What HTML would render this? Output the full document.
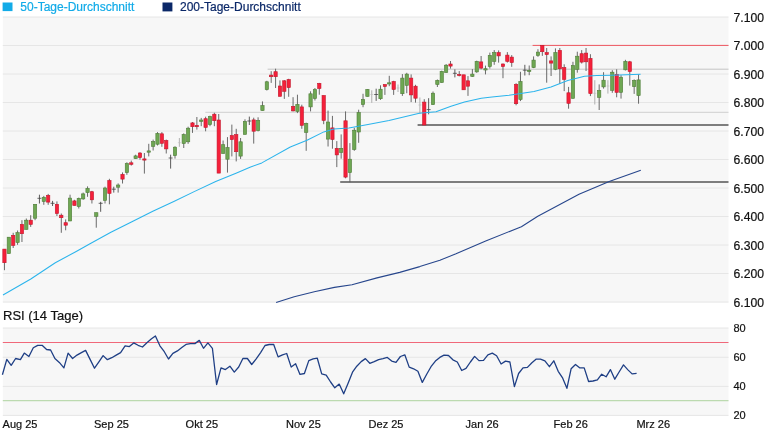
<!DOCTYPE html>
<html><head><meta charset="utf-8"><title>Chart</title>
<style>html,body{margin:0;padding:0;background:#fff;}svg{display:block;will-change:transform}</style></head>
<body><svg width="765" height="430" viewBox="0 0 765 430">
<rect width="765" height="430" fill="#fff"/>
<rect x="2.8" y="17" width="725.7" height="285.5" fill="#f7f7f7"/>
<rect x="2.8" y="328" width="725.7" height="87.5" fill="#f7f7f7"/>
<line x1="2.8" x2="728.5" y1="17.0" y2="17.0" stroke="#e6e6e6" stroke-width="1"/>
<line x1="2.8" x2="728.5" y1="45.5" y2="45.5" stroke="#e6e6e6" stroke-width="1"/>
<line x1="2.8" x2="728.5" y1="74.0" y2="74.0" stroke="#e6e6e6" stroke-width="1"/>
<line x1="2.8" x2="728.5" y1="102.5" y2="102.5" stroke="#e6e6e6" stroke-width="1"/>
<line x1="2.8" x2="728.5" y1="131.0" y2="131.0" stroke="#e6e6e6" stroke-width="1"/>
<line x1="2.8" x2="728.5" y1="159.5" y2="159.5" stroke="#e6e6e6" stroke-width="1"/>
<line x1="2.8" x2="728.5" y1="188.0" y2="188.0" stroke="#e6e6e6" stroke-width="1"/>
<line x1="2.8" x2="728.5" y1="216.5" y2="216.5" stroke="#e6e6e6" stroke-width="1"/>
<line x1="2.8" x2="728.5" y1="245.0" y2="245.0" stroke="#e6e6e6" stroke-width="1"/>
<line x1="2.8" x2="728.5" y1="273.5" y2="273.5" stroke="#e6e6e6" stroke-width="1"/>
<line x1="2.8" x2="728.5" y1="302.0" y2="302.0" stroke="#e6e6e6" stroke-width="1"/>
<line x1="2.8" x2="728.5" y1="328" y2="328" stroke="#e6e6e6" stroke-width="1"/>
<line x1="2.8" x2="728.5" y1="357.3" y2="357.3" stroke="#e6e6e6" stroke-width="1"/>
<line x1="2.8" x2="728.5" y1="386.4" y2="386.4" stroke="#e6e6e6" stroke-width="1"/>
<line x1="2.8" x2="728.5" y1="415.4" y2="415.4" stroke="#e6e6e6" stroke-width="1"/>
<line x1="205.3" x2="728.5" y1="112.3" y2="112.3" stroke="#cfcfcf" stroke-width="1"/>
<line x1="267.6" x2="728.5" y1="69.2" y2="69.2" stroke="#c4c4c4" stroke-width="1"/>
<line x1="532.6" x2="728.5" y1="45.4" y2="45.4" stroke="#ee5560" stroke-width="1"/>
<line x1="417.6" x2="728.5" y1="125" y2="125" stroke="#555" stroke-width="1.4"/>
<line x1="340.2" x2="728.5" y1="182" y2="182" stroke="#555" stroke-width="1.4"/>
<line x1="2.8" x2="728.5" y1="342.4" y2="342.4" stroke="#f0687a" stroke-width="1.05"/>
<line x1="2.8" x2="728.5" y1="400.7" y2="400.7" stroke="#bcdab0" stroke-width="1.2"/>
<line x1="4.45" x2="4.45" y1="249.1" y2="270.2" stroke="#5a5a5a" stroke-width="0.9"/>
<rect x="2.80" y="249.1" width="3.3" height="13.6" fill="#f5203a" stroke="#c4162c" stroke-width="0.6"/>
<line x1="8.82" x2="8.82" y1="237.2" y2="253.6" stroke="#5a5a5a" stroke-width="0.9"/>
<rect x="7.17" y="237.2" width="3.3" height="16.4" fill="#6ea753" stroke="#4f7d38" stroke-width="0.6"/>
<line x1="13.20" x2="13.20" y1="232.8" y2="248.0" stroke="#5a5a5a" stroke-width="0.9"/>
<rect x="11.55" y="235.3" width="3.3" height="10.1" fill="#f5203a" stroke="#c4162c" stroke-width="0.6"/>
<line x1="17.57" x2="17.57" y1="230.5" y2="244.8" stroke="#5a5a5a" stroke-width="0.9"/>
<rect x="15.92" y="232.6" width="3.3" height="9.9" fill="#6ea753" stroke="#4f7d38" stroke-width="0.6"/>
<line x1="21.94" x2="21.94" y1="220.2" y2="242.0" stroke="#5a5a5a" stroke-width="0.9"/>
<rect x="20.29" y="224.4" width="3.3" height="9.3" fill="#f5203a" stroke="#c4162c" stroke-width="0.6"/>
<line x1="26.32" x2="26.32" y1="218.5" y2="229.4" stroke="#5a5a5a" stroke-width="0.9"/>
<rect x="24.67" y="220.2" width="3.3" height="9.2" fill="#6ea753" stroke="#4f7d38" stroke-width="0.6"/>
<line x1="30.69" x2="30.69" y1="215.2" y2="226.9" stroke="#5a5a5a" stroke-width="0.9"/>
<rect x="29.04" y="220.2" width="3.3" height="4.2" fill="#f5203a" stroke="#c4162c" stroke-width="0.6"/>
<line x1="35.06" x2="35.06" y1="204.3" y2="220.2" stroke="#5a5a5a" stroke-width="0.9"/>
<rect x="33.41" y="204.3" width="3.3" height="13.9" fill="#6ea753" stroke="#4f7d38" stroke-width="0.6"/>
<line x1="39.43" x2="39.43" y1="194.7" y2="203.5" stroke="#4a4a4a" stroke-width="0.9"/>
<line x1="37.43" x2="41.43" y1="198.3" y2="198.3" stroke="#444" stroke-width="0.8"/>
<line x1="43.81" x2="43.81" y1="195.9" y2="204.8" stroke="#5a5a5a" stroke-width="0.9"/>
<rect x="42.16" y="197.3" width="3.3" height="4.1" fill="#6ea753" stroke="#4f7d38" stroke-width="0.6"/>
<line x1="48.18" x2="48.18" y1="193.9" y2="204.8" stroke="#5a5a5a" stroke-width="0.9"/>
<rect x="46.53" y="195.4" width="3.3" height="6.7" fill="#f5203a" stroke="#c4162c" stroke-width="0.6"/>
<line x1="52.55" x2="52.55" y1="200.9" y2="206.0" stroke="#4a4a4a" stroke-width="0.9"/>
<line x1="50.55" x2="54.55" y1="203.3" y2="203.3" stroke="#444" stroke-width="0.8"/>
<line x1="56.93" x2="56.93" y1="201.4" y2="216.0" stroke="#5a5a5a" stroke-width="0.9"/>
<rect x="55.28" y="204.3" width="3.3" height="9.2" fill="#f5203a" stroke="#c4162c" stroke-width="0.6"/>
<line x1="61.30" x2="61.30" y1="213.5" y2="232.8" stroke="#5a5a5a" stroke-width="0.9"/>
<rect x="59.65" y="215.2" width="3.3" height="2.5" fill="#f5203a" stroke="#c4162c" stroke-width="0.6"/>
<line x1="65.67" x2="65.67" y1="219.4" y2="230.3" stroke="#5a5a5a" stroke-width="0.9"/>
<rect x="64.02" y="222.7" width="3.3" height="2.5" fill="#f5203a" stroke="#c4162c" stroke-width="0.6"/>
<line x1="70.05" x2="70.05" y1="194.7" y2="221.0" stroke="#5a5a5a" stroke-width="0.9"/>
<rect x="68.39" y="198.1" width="3.3" height="22.9" fill="#6ea753" stroke="#4f7d38" stroke-width="0.6"/>
<line x1="74.42" x2="74.42" y1="199.8" y2="205.5" stroke="#5a5a5a" stroke-width="0.9"/>
<rect x="72.77" y="200.9" width="3.3" height="4.6" fill="#f5203a" stroke="#c4162c" stroke-width="0.6"/>
<line x1="78.79" x2="78.79" y1="197.6" y2="208.5" stroke="#5a5a5a" stroke-width="0.9"/>
<rect x="77.14" y="198.4" width="3.3" height="8.1" fill="#6ea753" stroke="#4f7d38" stroke-width="0.6"/>
<line x1="83.16" x2="83.16" y1="192.6" y2="199.8" stroke="#5a5a5a" stroke-width="0.9"/>
<rect x="81.51" y="193.9" width="3.3" height="5.0" fill="#6ea753" stroke="#4f7d38" stroke-width="0.6"/>
<line x1="87.54" x2="87.54" y1="186.4" y2="196.8" stroke="#5a5a5a" stroke-width="0.9"/>
<rect x="85.89" y="188.4" width="3.3" height="4.2" fill="#6ea753" stroke="#4f7d38" stroke-width="0.6"/>
<line x1="91.91" x2="91.91" y1="190.9" y2="203.5" stroke="#5a5a5a" stroke-width="0.9"/>
<rect x="90.26" y="191.7" width="3.3" height="8.1" fill="#f5203a" stroke="#c4162c" stroke-width="0.6"/>
<line x1="96.28" x2="96.28" y1="212.7" y2="227.7" stroke="#5a5a5a" stroke-width="0.9"/>
<rect x="94.63" y="212.7" width="3.3" height="3.6" fill="#6ea753" stroke="#4f7d38" stroke-width="0.6"/>
<line x1="100.66" x2="100.66" y1="201.8" y2="211.8" stroke="#4a4a4a" stroke-width="0.9"/>
<line x1="98.66" x2="102.66" y1="203.3" y2="203.3" stroke="#444" stroke-width="0.8"/>
<line x1="105.03" x2="105.03" y1="186.7" y2="203.5" stroke="#5a5a5a" stroke-width="0.9"/>
<rect x="103.38" y="188.0" width="3.3" height="12.4" fill="#6ea753" stroke="#4f7d38" stroke-width="0.6"/>
<line x1="109.40" x2="109.40" y1="178.8" y2="204.3" stroke="#5a5a5a" stroke-width="0.9"/>
<rect x="107.75" y="180.5" width="3.3" height="12.9" fill="#f5203a" stroke="#c4162c" stroke-width="0.6"/>
<line x1="113.78" x2="113.78" y1="186.7" y2="192.6" stroke="#4a4a4a" stroke-width="0.9"/>
<line x1="111.78" x2="115.78" y1="189.2" y2="189.2" stroke="#444" stroke-width="0.8"/>
<line x1="118.15" x2="118.15" y1="183.4" y2="192.6" stroke="#5a5a5a" stroke-width="0.9"/>
<rect x="116.50" y="185.0" width="3.3" height="2.2" fill="#6ea753" stroke="#4f7d38" stroke-width="0.6"/>
<line x1="122.52" x2="122.52" y1="172.4" y2="183.5" stroke="#5a5a5a" stroke-width="0.9"/>
<rect x="120.87" y="174.4" width="3.3" height="4.7" fill="#f5203a" stroke="#c4162c" stroke-width="0.6"/>
<line x1="126.89" x2="126.89" y1="162.3" y2="174.8" stroke="#5a5a5a" stroke-width="0.9"/>
<rect x="125.24" y="163.6" width="3.3" height="9.0" fill="#6ea753" stroke="#4f7d38" stroke-width="0.6"/>
<line x1="131.27" x2="131.27" y1="160.6" y2="165.6" stroke="#5a5a5a" stroke-width="0.9"/>
<rect x="129.62" y="162.8" width="3.3" height="1.5" fill="#f5203a" stroke="#c4162c" stroke-width="0.6"/>
<line x1="135.64" x2="135.64" y1="154.7" y2="158.9" stroke="#5a5a5a" stroke-width="0.9"/>
<rect x="133.99" y="155.9" width="3.3" height="2.7" fill="#6ea753" stroke="#4f7d38" stroke-width="0.6"/>
<line x1="140.01" x2="140.01" y1="152.2" y2="159.7" stroke="#5a5a5a" stroke-width="0.9"/>
<rect x="138.36" y="153.0" width="3.3" height="4.6" fill="#f5203a" stroke="#c4162c" stroke-width="0.6"/>
<line x1="144.39" x2="144.39" y1="153.0" y2="173.6" stroke="#5a5a5a" stroke-width="0.9"/>
<rect x="142.74" y="158.9" width="3.3" height="1.2" fill="#f5203a" stroke="#c4162c" stroke-width="0.6"/>
<line x1="148.76" x2="148.76" y1="143.8" y2="156.4" stroke="#5a5a5a" stroke-width="0.9"/>
<rect x="147.11" y="150.9" width="3.3" height="1.3" fill="#6ea753" stroke="#4f7d38" stroke-width="0.6"/>
<line x1="153.13" x2="153.13" y1="139.6" y2="150.5" stroke="#5a5a5a" stroke-width="0.9"/>
<rect x="151.48" y="141.6" width="3.3" height="4.7" fill="#6ea753" stroke="#4f7d38" stroke-width="0.6"/>
<line x1="157.50" x2="157.50" y1="132.1" y2="145.5" stroke="#5a5a5a" stroke-width="0.9"/>
<rect x="155.85" y="133.4" width="3.3" height="10.8" fill="#6ea753" stroke="#4f7d38" stroke-width="0.6"/>
<line x1="161.88" x2="161.88" y1="132.1" y2="146.8" stroke="#5a5a5a" stroke-width="0.9"/>
<rect x="160.23" y="133.8" width="3.3" height="9.5" fill="#f5203a" stroke="#c4162c" stroke-width="0.6"/>
<line x1="166.25" x2="166.25" y1="139.6" y2="153.5" stroke="#5a5a5a" stroke-width="0.9"/>
<rect x="164.60" y="140.5" width="3.3" height="8.4" fill="#f5203a" stroke="#c4162c" stroke-width="0.6"/>
<line x1="170.62" x2="170.62" y1="154.7" y2="168.6" stroke="#4a4a4a" stroke-width="0.9"/>
<line x1="168.62" x2="172.62" y1="158.0" y2="158.0" stroke="#444" stroke-width="0.8"/>
<line x1="175.00" x2="175.00" y1="146.3" y2="158.6" stroke="#5a5a5a" stroke-width="0.9"/>
<rect x="173.35" y="147.2" width="3.3" height="8.4" fill="#6ea753" stroke="#4f7d38" stroke-width="0.6"/>
<line x1="179.37" x2="179.37" y1="138.0" y2="146.8" stroke="#a8a8a8" stroke-width="0.9"/>
<line x1="177.87" x2="180.87" y1="142.7" y2="142.7" stroke="#bbb" stroke-width="0.6"/>
<line x1="183.74" x2="183.74" y1="133.4" y2="148.0" stroke="#5a5a5a" stroke-width="0.9"/>
<rect x="182.09" y="134.6" width="3.3" height="8.9" fill="#6ea753" stroke="#4f7d38" stroke-width="0.6"/>
<line x1="188.12" x2="188.12" y1="126.7" y2="143.8" stroke="#5a5a5a" stroke-width="0.9"/>
<rect x="186.47" y="128.2" width="3.3" height="13.6" fill="#6ea753" stroke="#4f7d38" stroke-width="0.6"/>
<line x1="192.49" x2="192.49" y1="122.0" y2="132.9" stroke="#5a5a5a" stroke-width="0.9"/>
<rect x="190.84" y="122.9" width="3.3" height="3.8" fill="#f5203a" stroke="#c4162c" stroke-width="0.6"/>
<line x1="196.86" x2="196.86" y1="117.0" y2="129.6" stroke="#5a5a5a" stroke-width="0.9"/>
<rect x="195.21" y="125.4" width="3.3" height="1.3" fill="#f5203a" stroke="#c4162c" stroke-width="0.6"/>
<line x1="201.23" x2="201.23" y1="117.9" y2="126.2" stroke="#5a5a5a" stroke-width="0.9"/>
<rect x="199.58" y="120.0" width="3.3" height="1.4" fill="#6ea753" stroke="#4f7d38" stroke-width="0.6"/>
<line x1="205.61" x2="205.61" y1="116.7" y2="131.3" stroke="#5a5a5a" stroke-width="0.9"/>
<rect x="203.96" y="118.7" width="3.3" height="8.7" fill="#f5203a" stroke="#c4162c" stroke-width="0.6"/>
<line x1="209.98" x2="209.98" y1="115.7" y2="126.2" stroke="#5a5a5a" stroke-width="0.9"/>
<rect x="208.33" y="116.5" width="3.3" height="8.1" fill="#6ea753" stroke="#4f7d38" stroke-width="0.6"/>
<line x1="214.35" x2="214.35" y1="112.8" y2="126.2" stroke="#5a5a5a" stroke-width="0.9"/>
<rect x="212.70" y="114.2" width="3.3" height="6.5" fill="#f5203a" stroke="#c4162c" stroke-width="0.6"/>
<line x1="218.73" x2="218.73" y1="114.0" y2="173.1" stroke="#5a5a5a" stroke-width="0.9"/>
<rect x="217.08" y="120.0" width="3.3" height="53.1" fill="#f5203a" stroke="#c4162c" stroke-width="0.6"/>
<line x1="223.10" x2="223.10" y1="140.5" y2="153.5" stroke="#5a5a5a" stroke-width="0.9"/>
<rect x="221.45" y="144.7" width="3.3" height="8.8" fill="#6ea753" stroke="#4f7d38" stroke-width="0.6"/>
<line x1="227.47" x2="227.47" y1="137.1" y2="172.6" stroke="#5a5a5a" stroke-width="0.9"/>
<rect x="225.82" y="147.5" width="3.3" height="11.7" fill="#6ea753" stroke="#4f7d38" stroke-width="0.6"/>
<line x1="231.85" x2="231.85" y1="124.6" y2="156.4" stroke="#5a5a5a" stroke-width="0.9"/>
<rect x="230.20" y="135.5" width="3.3" height="4.1" fill="#f5203a" stroke="#c4162c" stroke-width="0.6"/>
<line x1="236.22" x2="236.22" y1="128.8" y2="161.4" stroke="#5a5a5a" stroke-width="0.9"/>
<rect x="234.57" y="134.6" width="3.3" height="17.1" fill="#f5203a" stroke="#c4162c" stroke-width="0.6"/>
<line x1="240.59" x2="240.59" y1="138.0" y2="158.9" stroke="#5a5a5a" stroke-width="0.9"/>
<rect x="238.94" y="141.8" width="3.3" height="14.3" fill="#6ea753" stroke="#4f7d38" stroke-width="0.6"/>
<line x1="244.97" x2="244.97" y1="119.3" y2="134.4" stroke="#5a5a5a" stroke-width="0.9"/>
<rect x="243.31" y="121.4" width="3.3" height="13.0" fill="#6ea753" stroke="#4f7d38" stroke-width="0.6"/>
<line x1="249.34" x2="249.34" y1="116.6" y2="125.0" stroke="#4a4a4a" stroke-width="0.9"/>
<line x1="247.34" x2="251.34" y1="121.0" y2="121.0" stroke="#444" stroke-width="0.8"/>
<line x1="253.71" x2="253.71" y1="117.7" y2="143.6" stroke="#5a5a5a" stroke-width="0.9"/>
<rect x="252.06" y="119.9" width="3.3" height="11.3" fill="#f5203a" stroke="#c4162c" stroke-width="0.6"/>
<line x1="258.08" x2="258.08" y1="117.3" y2="131.4" stroke="#5a5a5a" stroke-width="0.9"/>
<rect x="256.43" y="120.4" width="3.3" height="10.1" fill="#6ea753" stroke="#4f7d38" stroke-width="0.6"/>
<line x1="262.46" x2="262.46" y1="101.4" y2="110.6" stroke="#5a5a5a" stroke-width="0.9"/>
<rect x="260.81" y="105.6" width="3.3" height="5.0" fill="#6ea753" stroke="#4f7d38" stroke-width="0.6"/>
<line x1="266.83" x2="266.83" y1="80.8" y2="90.5" stroke="#5a5a5a" stroke-width="0.9"/>
<rect x="265.18" y="81.8" width="3.3" height="7.8" fill="#6ea753" stroke="#4f7d38" stroke-width="0.6"/>
<line x1="271.20" x2="271.20" y1="71.2" y2="82.9" stroke="#5a5a5a" stroke-width="0.9"/>
<rect x="269.55" y="75.1" width="3.3" height="1.6" fill="#f5203a" stroke="#c4162c" stroke-width="0.6"/>
<line x1="275.58" x2="275.58" y1="68.7" y2="88.0" stroke="#5a5a5a" stroke-width="0.9"/>
<rect x="273.93" y="71.7" width="3.3" height="5.0" fill="#f5203a" stroke="#c4162c" stroke-width="0.6"/>
<line x1="279.95" x2="279.95" y1="80.4" y2="96.3" stroke="#5a5a5a" stroke-width="0.9"/>
<rect x="278.30" y="86.0" width="3.3" height="10.3" fill="#f5203a" stroke="#c4162c" stroke-width="0.6"/>
<line x1="284.32" x2="284.32" y1="80.1" y2="98.9" stroke="#5a5a5a" stroke-width="0.9"/>
<rect x="282.67" y="80.8" width="3.3" height="10.5" fill="#f5203a" stroke="#c4162c" stroke-width="0.6"/>
<line x1="288.69" x2="288.69" y1="78.8" y2="96.8" stroke="#5a5a5a" stroke-width="0.9"/>
<rect x="287.05" y="79.6" width="3.3" height="8.0" fill="#f5203a" stroke="#c4162c" stroke-width="0.6"/>
<line x1="293.07" x2="293.07" y1="97.2" y2="111.4" stroke="#5a5a5a" stroke-width="0.9"/>
<rect x="291.42" y="106.4" width="3.3" height="4.5" fill="#f5203a" stroke="#c4162c" stroke-width="0.6"/>
<line x1="297.44" x2="297.44" y1="94.7" y2="113.1" stroke="#5a5a5a" stroke-width="0.9"/>
<rect x="295.79" y="104.4" width="3.3" height="7.0" fill="#6ea753" stroke="#4f7d38" stroke-width="0.6"/>
<line x1="301.81" x2="301.81" y1="104.7" y2="128.8" stroke="#5a5a5a" stroke-width="0.9"/>
<rect x="300.16" y="106.9" width="3.3" height="18.4" fill="#f5203a" stroke="#c4162c" stroke-width="0.6"/>
<line x1="306.19" x2="306.19" y1="122.7" y2="150.8" stroke="#5a5a5a" stroke-width="0.9"/>
<rect x="304.54" y="123.4" width="3.3" height="9.0" fill="#6ea753" stroke="#4f7d38" stroke-width="0.6"/>
<line x1="310.56" x2="310.56" y1="91.3" y2="111.4" stroke="#5a5a5a" stroke-width="0.9"/>
<rect x="308.91" y="93.8" width="3.3" height="13.1" fill="#6ea753" stroke="#4f7d38" stroke-width="0.6"/>
<line x1="314.93" x2="314.93" y1="88.0" y2="100.5" stroke="#5a5a5a" stroke-width="0.9"/>
<rect x="313.28" y="89.6" width="3.3" height="8.9" fill="#6ea753" stroke="#4f7d38" stroke-width="0.6"/>
<line x1="319.31" x2="319.31" y1="82.9" y2="94.7" stroke="#5a5a5a" stroke-width="0.9"/>
<rect x="317.66" y="83.4" width="3.3" height="5.1" fill="#f5203a" stroke="#c4162c" stroke-width="0.6"/>
<line x1="323.68" x2="323.68" y1="95.5" y2="124.2" stroke="#5a5a5a" stroke-width="0.9"/>
<rect x="322.03" y="95.5" width="3.3" height="24.9" fill="#f5203a" stroke="#c4162c" stroke-width="0.6"/>
<line x1="328.05" x2="328.05" y1="110.6" y2="146.5" stroke="#5a5a5a" stroke-width="0.9"/>
<rect x="326.40" y="122.0" width="3.3" height="17.1" fill="#6ea753" stroke="#4f7d38" stroke-width="0.6"/>
<line x1="332.43" x2="332.43" y1="115.9" y2="148.7" stroke="#5a5a5a" stroke-width="0.9"/>
<rect x="330.78" y="127.9" width="3.3" height="11.6" fill="#f5203a" stroke="#c4162c" stroke-width="0.6"/>
<line x1="336.80" x2="336.80" y1="141.1" y2="167.1" stroke="#5a5a5a" stroke-width="0.9"/>
<rect x="335.15" y="148.3" width="3.3" height="6.6" fill="#f5203a" stroke="#c4162c" stroke-width="0.6"/>
<line x1="341.17" x2="341.17" y1="134.4" y2="158.7" stroke="#5a5a5a" stroke-width="0.9"/>
<rect x="339.52" y="148.3" width="3.3" height="4.2" fill="#6ea753" stroke="#4f7d38" stroke-width="0.6"/>
<line x1="345.54" x2="345.54" y1="111.4" y2="178.3" stroke="#5a5a5a" stroke-width="0.9"/>
<rect x="343.89" y="120.8" width="3.3" height="56.3" fill="#f5203a" stroke="#c4162c" stroke-width="0.6"/>
<line x1="349.92" x2="349.92" y1="143.1" y2="182.2" stroke="#5a5a5a" stroke-width="0.9"/>
<rect x="348.27" y="159.2" width="3.3" height="13.4" fill="#6ea753" stroke="#4f7d38" stroke-width="0.6"/>
<line x1="354.29" x2="354.29" y1="127.8" y2="150.8" stroke="#5a5a5a" stroke-width="0.9"/>
<rect x="352.64" y="130.2" width="3.3" height="19.3" fill="#6ea753" stroke="#4f7d38" stroke-width="0.6"/>
<line x1="358.66" x2="358.66" y1="109.7" y2="142.8" stroke="#5a5a5a" stroke-width="0.9"/>
<rect x="357.01" y="112.6" width="3.3" height="19.4" fill="#6ea753" stroke="#4f7d38" stroke-width="0.6"/>
<line x1="363.04" x2="363.04" y1="93.8" y2="107.2" stroke="#5a5a5a" stroke-width="0.9"/>
<rect x="361.39" y="99.5" width="3.3" height="5.0" fill="#6ea753" stroke="#4f7d38" stroke-width="0.6"/>
<line x1="367.41" x2="367.41" y1="89.2" y2="96.5" stroke="#5a5a5a" stroke-width="0.9"/>
<rect x="365.76" y="89.4" width="3.3" height="7.0" fill="#6ea753" stroke="#4f7d38" stroke-width="0.6"/>
<line x1="371.78" x2="371.78" y1="90.3" y2="102.9" stroke="#a8a8a8" stroke-width="0.9"/>
<line x1="370.28" x2="373.28" y1="94.5" y2="94.5" stroke="#bbb" stroke-width="0.6"/>
<line x1="376.16" x2="376.16" y1="88.7" y2="100.9" stroke="#4a4a4a" stroke-width="0.9"/>
<line x1="374.16" x2="378.16" y1="94.5" y2="94.5" stroke="#444" stroke-width="0.8"/>
<line x1="380.53" x2="380.53" y1="85.3" y2="99.9" stroke="#5a5a5a" stroke-width="0.9"/>
<rect x="378.88" y="89.2" width="3.3" height="9.5" fill="#6ea753" stroke="#4f7d38" stroke-width="0.6"/>
<line x1="384.90" x2="384.90" y1="84.5" y2="94.9" stroke="#5a5a5a" stroke-width="0.9"/>
<rect x="383.25" y="84.5" width="3.3" height="2.0" fill="#f5203a" stroke="#c4162c" stroke-width="0.6"/>
<line x1="389.27" x2="389.27" y1="75.8" y2="86.2" stroke="#5a5a5a" stroke-width="0.9"/>
<rect x="387.62" y="82.8" width="3.3" height="1.2" fill="#6ea753" stroke="#4f7d38" stroke-width="0.6"/>
<line x1="393.65" x2="393.65" y1="80.8" y2="94.9" stroke="#5a5a5a" stroke-width="0.9"/>
<rect x="392.00" y="81.5" width="3.3" height="8.0" fill="#f5203a" stroke="#c4162c" stroke-width="0.6"/>
<line x1="398.02" x2="398.02" y1="84.5" y2="92.0" stroke="#a8a8a8" stroke-width="0.9"/>
<line x1="396.52" x2="399.52" y1="88.0" y2="88.0" stroke="#bbb" stroke-width="0.6"/>
<line x1="402.39" x2="402.39" y1="74.1" y2="95.9" stroke="#5a5a5a" stroke-width="0.9"/>
<rect x="400.74" y="78.1" width="3.3" height="15.6" fill="#6ea753" stroke="#4f7d38" stroke-width="0.6"/>
<line x1="406.77" x2="406.77" y1="72.8" y2="93.2" stroke="#5a5a5a" stroke-width="0.9"/>
<rect x="405.12" y="74.1" width="3.3" height="11.2" fill="#6ea753" stroke="#4f7d38" stroke-width="0.6"/>
<line x1="411.14" x2="411.14" y1="74.4" y2="102.1" stroke="#5a5a5a" stroke-width="0.9"/>
<rect x="409.49" y="78.1" width="3.3" height="16.8" fill="#f5203a" stroke="#c4162c" stroke-width="0.6"/>
<line x1="415.51" x2="415.51" y1="84.8" y2="102.6" stroke="#5a5a5a" stroke-width="0.9"/>
<rect x="413.86" y="86.2" width="3.3" height="12.0" fill="#f5203a" stroke="#c4162c" stroke-width="0.6"/>
<line x1="419.88" x2="419.88" y1="97.5" y2="113.8" stroke="#a8a8a8" stroke-width="0.9"/>
<line x1="418.38" x2="421.38" y1="105.0" y2="105.0" stroke="#bbb" stroke-width="0.6"/>
<line x1="424.26" x2="424.26" y1="99.2" y2="125.0" stroke="#5a5a5a" stroke-width="0.9"/>
<rect x="422.61" y="102.1" width="3.3" height="22.9" fill="#f5203a" stroke="#c4162c" stroke-width="0.6"/>
<line x1="428.63" x2="428.63" y1="98.2" y2="114.3" stroke="#4a4a4a" stroke-width="0.9"/>
<line x1="426.63" x2="430.63" y1="109.6" y2="109.6" stroke="#444" stroke-width="0.8"/>
<line x1="433.00" x2="433.00" y1="91.5" y2="104.9" stroke="#5a5a5a" stroke-width="0.9"/>
<rect x="431.35" y="93.2" width="3.3" height="11.4" fill="#6ea753" stroke="#4f7d38" stroke-width="0.6"/>
<line x1="437.38" x2="437.38" y1="79.5" y2="87.0" stroke="#5a5a5a" stroke-width="0.9"/>
<rect x="435.73" y="80.3" width="3.3" height="4.2" fill="#6ea753" stroke="#4f7d38" stroke-width="0.6"/>
<line x1="441.75" x2="441.75" y1="70.7" y2="82.8" stroke="#5a5a5a" stroke-width="0.9"/>
<rect x="440.10" y="71.4" width="3.3" height="11.1" fill="#6ea753" stroke="#4f7d38" stroke-width="0.6"/>
<line x1="446.12" x2="446.12" y1="64.0" y2="72.8" stroke="#5a5a5a" stroke-width="0.9"/>
<rect x="444.47" y="65.2" width="3.3" height="7.2" fill="#6ea753" stroke="#4f7d38" stroke-width="0.6"/>
<line x1="450.50" x2="450.50" y1="61.0" y2="68.6" stroke="#5a5a5a" stroke-width="0.9"/>
<rect x="448.85" y="64.0" width="3.3" height="2.1" fill="#f5203a" stroke="#c4162c" stroke-width="0.6"/>
<line x1="454.87" x2="454.87" y1="69.4" y2="77.4" stroke="#4a4a4a" stroke-width="0.9"/>
<line x1="452.87" x2="456.87" y1="73.3" y2="73.3" stroke="#444" stroke-width="0.8"/>
<line x1="459.24" x2="459.24" y1="71.1" y2="76.4" stroke="#5a5a5a" stroke-width="0.9"/>
<rect x="457.59" y="74.4" width="3.3" height="1.2" fill="#f5203a" stroke="#c4162c" stroke-width="0.6"/>
<line x1="463.62" x2="463.62" y1="74.8" y2="89.8" stroke="#5a5a5a" stroke-width="0.9"/>
<rect x="461.97" y="74.8" width="3.3" height="15.0" fill="#f5203a" stroke="#c4162c" stroke-width="0.6"/>
<line x1="467.99" x2="467.99" y1="76.1" y2="95.9" stroke="#5a5a5a" stroke-width="0.9"/>
<rect x="466.34" y="80.8" width="3.3" height="5.4" fill="#f5203a" stroke="#c4162c" stroke-width="0.6"/>
<line x1="472.36" x2="472.36" y1="69.1" y2="76.9" stroke="#5a5a5a" stroke-width="0.9"/>
<rect x="470.71" y="74.1" width="3.3" height="2.3" fill="#6ea753" stroke="#4f7d38" stroke-width="0.6"/>
<line x1="476.73" x2="476.73" y1="60.7" y2="72.8" stroke="#5a5a5a" stroke-width="0.9"/>
<rect x="475.08" y="61.4" width="3.3" height="10.5" fill="#6ea753" stroke="#4f7d38" stroke-width="0.6"/>
<line x1="481.11" x2="481.11" y1="56.0" y2="69.4" stroke="#5a5a5a" stroke-width="0.9"/>
<rect x="479.46" y="61.9" width="3.3" height="6.2" fill="#f5203a" stroke="#c4162c" stroke-width="0.6"/>
<line x1="485.48" x2="485.48" y1="65.6" y2="74.4" stroke="#5a5a5a" stroke-width="0.9"/>
<rect x="483.83" y="68.7" width="3.3" height="1.3" fill="#6ea753" stroke="#4f7d38" stroke-width="0.6"/>
<line x1="489.85" x2="489.85" y1="52.6" y2="68.5" stroke="#5a5a5a" stroke-width="0.9"/>
<rect x="488.20" y="55.4" width="3.3" height="11.1" fill="#6ea753" stroke="#4f7d38" stroke-width="0.6"/>
<line x1="494.23" x2="494.23" y1="50.1" y2="64.8" stroke="#5a5a5a" stroke-width="0.9"/>
<rect x="492.58" y="52.6" width="3.3" height="8.8" fill="#6ea753" stroke="#4f7d38" stroke-width="0.6"/>
<line x1="498.60" x2="498.60" y1="50.4" y2="62.6" stroke="#5a5a5a" stroke-width="0.9"/>
<rect x="496.95" y="52.6" width="3.3" height="3.3" fill="#f5203a" stroke="#c4162c" stroke-width="0.6"/>
<line x1="502.97" x2="502.97" y1="63.5" y2="78.2" stroke="#5a5a5a" stroke-width="0.9"/>
<rect x="501.32" y="64.0" width="3.3" height="2.5" fill="#f5203a" stroke="#c4162c" stroke-width="0.6"/>
<line x1="507.35" x2="507.35" y1="52.1" y2="62.6" stroke="#5a5a5a" stroke-width="0.9"/>
<rect x="505.70" y="55.1" width="3.3" height="6.3" fill="#f5203a" stroke="#c4162c" stroke-width="0.6"/>
<line x1="511.72" x2="511.72" y1="55.1" y2="66.8" stroke="#5a5a5a" stroke-width="0.9"/>
<rect x="510.07" y="57.1" width="3.3" height="5.5" fill="#f5203a" stroke="#c4162c" stroke-width="0.6"/>
<line x1="516.09" x2="516.09" y1="83.2" y2="105.3" stroke="#5a5a5a" stroke-width="0.9"/>
<rect x="514.44" y="84.4" width="3.3" height="19.3" fill="#f5203a" stroke="#c4162c" stroke-width="0.6"/>
<line x1="520.46" x2="520.46" y1="71.8" y2="101.1" stroke="#5a5a5a" stroke-width="0.9"/>
<rect x="518.81" y="81.5" width="3.3" height="18.0" fill="#6ea753" stroke="#4f7d38" stroke-width="0.6"/>
<line x1="524.84" x2="524.84" y1="64.8" y2="75.5" stroke="#4a4a4a" stroke-width="0.9"/>
<line x1="522.84" x2="526.84" y1="70.2" y2="70.2" stroke="#444" stroke-width="0.8"/>
<line x1="529.21" x2="529.21" y1="65.5" y2="75.2" stroke="#5a5a5a" stroke-width="0.9"/>
<rect x="527.56" y="70.2" width="3.3" height="1.3" fill="#6ea753" stroke="#4f7d38" stroke-width="0.6"/>
<line x1="533.58" x2="533.58" y1="56.4" y2="68.1" stroke="#5a5a5a" stroke-width="0.9"/>
<rect x="531.93" y="60.1" width="3.3" height="7.5" fill="#6ea753" stroke="#4f7d38" stroke-width="0.6"/>
<line x1="537.96" x2="537.96" y1="49.2" y2="56.8" stroke="#5a5a5a" stroke-width="0.9"/>
<rect x="536.31" y="52.1" width="3.3" height="3.3" fill="#6ea753" stroke="#4f7d38" stroke-width="0.6"/>
<line x1="542.33" x2="542.33" y1="45.4" y2="55.9" stroke="#5a5a5a" stroke-width="0.9"/>
<rect x="540.68" y="45.4" width="3.3" height="6.3" fill="#f5203a" stroke="#c4162c" stroke-width="0.6"/>
<line x1="546.70" x2="546.70" y1="48.0" y2="82.7" stroke="#5a5a5a" stroke-width="0.9"/>
<rect x="545.05" y="52.6" width="3.3" height="2.0" fill="#f5203a" stroke="#c4162c" stroke-width="0.6"/>
<line x1="551.08" x2="551.08" y1="56.4" y2="76.0" stroke="#5a5a5a" stroke-width="0.9"/>
<rect x="549.43" y="60.9" width="3.3" height="2.2" fill="#f5203a" stroke="#c4162c" stroke-width="0.6"/>
<line x1="555.45" x2="555.45" y1="48.4" y2="70.2" stroke="#5a5a5a" stroke-width="0.9"/>
<rect x="553.80" y="52.6" width="3.3" height="16.7" fill="#6ea753" stroke="#4f7d38" stroke-width="0.6"/>
<line x1="559.82" x2="559.82" y1="48.0" y2="83.9" stroke="#5a5a5a" stroke-width="0.9"/>
<rect x="558.17" y="50.4" width="3.3" height="18.4" fill="#f5203a" stroke="#c4162c" stroke-width="0.6"/>
<line x1="564.19" x2="564.19" y1="64.3" y2="91.1" stroke="#5a5a5a" stroke-width="0.9"/>
<rect x="562.54" y="67.6" width="3.3" height="11.8" fill="#f5203a" stroke="#c4162c" stroke-width="0.6"/>
<line x1="568.57" x2="568.57" y1="86.9" y2="108.7" stroke="#5a5a5a" stroke-width="0.9"/>
<rect x="566.92" y="92.8" width="3.3" height="10.5" fill="#f5203a" stroke="#c4162c" stroke-width="0.6"/>
<line x1="572.94" x2="572.94" y1="61.8" y2="98.6" stroke="#5a5a5a" stroke-width="0.9"/>
<rect x="571.29" y="65.5" width="3.3" height="32.8" fill="#6ea753" stroke="#4f7d38" stroke-width="0.6"/>
<line x1="577.31" x2="577.31" y1="51.7" y2="72.7" stroke="#5a5a5a" stroke-width="0.9"/>
<rect x="575.66" y="56.2" width="3.3" height="13.1" fill="#6ea753" stroke="#4f7d38" stroke-width="0.6"/>
<line x1="581.69" x2="581.69" y1="50.1" y2="63.5" stroke="#5a5a5a" stroke-width="0.9"/>
<rect x="580.04" y="53.7" width="3.3" height="8.4" fill="#f5203a" stroke="#c4162c" stroke-width="0.6"/>
<line x1="586.06" x2="586.06" y1="48.0" y2="71.0" stroke="#5a5a5a" stroke-width="0.9"/>
<rect x="584.41" y="53.1" width="3.3" height="8.7" fill="#f5203a" stroke="#c4162c" stroke-width="0.6"/>
<line x1="590.43" x2="590.43" y1="54.2" y2="96.1" stroke="#5a5a5a" stroke-width="0.9"/>
<rect x="588.78" y="58.4" width="3.3" height="35.2" fill="#f5203a" stroke="#c4162c" stroke-width="0.6"/>
<line x1="594.81" x2="594.81" y1="80.2" y2="104.5" stroke="#a8a8a8" stroke-width="0.9"/>
<line x1="593.31" x2="596.31" y1="93.3" y2="93.3" stroke="#bbb" stroke-width="0.6"/>
<line x1="599.18" x2="599.18" y1="84.4" y2="110.0" stroke="#5a5a5a" stroke-width="0.9"/>
<rect x="597.53" y="90.6" width="3.3" height="6.7" fill="#6ea753" stroke="#4f7d38" stroke-width="0.6"/>
<line x1="603.55" x2="603.55" y1="72.2" y2="88.6" stroke="#5a5a5a" stroke-width="0.9"/>
<rect x="601.90" y="80.2" width="3.3" height="6.7" fill="#6ea753" stroke="#4f7d38" stroke-width="0.6"/>
<line x1="607.92" x2="607.92" y1="80.2" y2="93.6" stroke="#a8a8a8" stroke-width="0.9"/>
<line x1="606.42" x2="609.42" y1="86.0" y2="86.0" stroke="#bbb" stroke-width="0.6"/>
<line x1="612.30" x2="612.30" y1="70.2" y2="92.8" stroke="#5a5a5a" stroke-width="0.9"/>
<rect x="610.65" y="72.2" width="3.3" height="18.1" fill="#6ea753" stroke="#4f7d38" stroke-width="0.6"/>
<line x1="616.67" x2="616.67" y1="69.3" y2="97.3" stroke="#5a5a5a" stroke-width="0.9"/>
<rect x="615.02" y="74.3" width="3.3" height="18.0" fill="#f5203a" stroke="#c4162c" stroke-width="0.6"/>
<line x1="621.04" x2="621.04" y1="75.2" y2="98.6" stroke="#5a5a5a" stroke-width="0.9"/>
<rect x="619.39" y="77.2" width="3.3" height="15.1" fill="#6ea753" stroke="#4f7d38" stroke-width="0.6"/>
<line x1="625.42" x2="625.42" y1="59.8" y2="70.5" stroke="#5a5a5a" stroke-width="0.9"/>
<rect x="623.77" y="61.4" width="3.3" height="8.4" fill="#6ea753" stroke="#4f7d38" stroke-width="0.6"/>
<line x1="629.79" x2="629.79" y1="60.9" y2="85.6" stroke="#5a5a5a" stroke-width="0.9"/>
<rect x="628.14" y="61.8" width="3.3" height="9.7" fill="#f5203a" stroke="#c4162c" stroke-width="0.6"/>
<line x1="634.16" x2="634.16" y1="79.4" y2="93.9" stroke="#5a5a5a" stroke-width="0.9"/>
<rect x="632.51" y="80.5" width="3.3" height="6.1" fill="#6ea753" stroke="#4f7d38" stroke-width="0.6"/>
<line x1="638.54" x2="638.54" y1="74.3" y2="103.7" stroke="#5a5a5a" stroke-width="0.9"/>
<rect x="636.89" y="79.9" width="3.3" height="15.7" fill="#6ea753" stroke="#4f7d38" stroke-width="0.6"/>
<polyline points="3.0,295.0 30.8,279.0 55.3,262.7 76.2,251.5 90.0,243.8 110.9,232.3 131.9,221.8 152.8,211.3 173.8,201.5 194.7,191.4 215.7,181.6 236.6,173.0 250.0,167.3 261.8,162.9 290.3,147.0 307.0,140.3 323.8,131.9 333.8,129.1 348.9,128.1 368.0,124.6 389.0,120.5 419.3,113.3 436.0,111.8 451.0,106.3 464.5,102.1 481.3,98.2 492.0,97.0 509.0,95.3 534.0,91.6 551.0,86.9 567.8,80.5 584.5,76.2 596.8,75.5 612.0,75.3 640.6,74.3" fill="none" stroke="#2bb4ec" stroke-width="1.05" stroke-linejoin="round"/>
<polyline points="276.1,302.5 294.2,296.7 314.3,291.7 334.4,287.4 352.0,284.7 377.0,277.9 399.7,272.4 419.8,266.6 439.9,260.3 456.0,253.8 485.7,241.0 521.4,226.7 537.8,216.3 579.0,194.3 609.2,181.4 640.8,170.2" fill="none" stroke="#27468c" stroke-width="1.1" stroke-linejoin="round"/>
<polyline points="2.4,374.7 6.8,359.4 11.2,365.3 15.6,358.5 20.4,359.7 24.3,353.1 28.9,356.5 33.3,347.8 37.7,345.4 42.1,345.3 46.6,349.5 50.6,350.0 54.9,358.5 59.3,362.4 63.9,367.9 68.1,353.1 72.6,358.5 77.0,355.1 81.4,352.6 85.6,350.4 90.1,359.4 94.5,368.2 98.9,361.9 103.1,355.6 107.4,359.7 111.8,357.7 116.2,355.1 120.6,352.6 125.1,345.8 129.4,346.6 133.7,342.9 138.1,345.3 142.5,347.0 146.9,342.7 151.2,339.0 155.4,335.9 159.9,345.8 164.3,351.7 168.5,359.0 172.9,353.4 177.4,350.9 181.8,347.5 186.0,344.4 190.4,343.6 194.9,343.6 199.3,340.4 203.5,348.3 207.9,342.9 212.4,348.3 216.6,384.5 221.0,367.9 225.4,369.6 229.9,366.2 234.3,372.1 238.7,367.0 242.9,358.5 247.4,358.5 251.7,364.5 256.2,358.9 260.6,352.6 265.0,345.5 269.2,344.5 273.7,344.5 278.1,356.9 282.5,354.8 286.7,353.5 291.2,367.1 295.6,363.7 300.0,374.4 304.4,373.5 308.8,360.6 313.1,358.9 317.3,358.2 321.7,373.9 326.2,375.1 330.6,382.0 334.8,387.8 339.2,384.1 343.7,393.8 348.1,383.2 352.5,372.2 356.8,366.2 361.2,361.6 365.4,358.6 369.8,363.3 374.2,361.6 378.6,359.6 383.0,358.6 387.3,357.4 391.7,361.1 396.0,362.3 400.4,356.5 404.8,354.8 409.2,367.1 413.6,368.8 417.9,371.3 422.3,382.4 426.7,374.2 431.0,366.7 435.4,361.1 439.8,357.4 444.0,355.2 448.5,355.5 452.9,359.8 457.3,362.0 461.7,370.5 466.0,368.4 470.4,362.0 474.6,356.4 479.0,360.6 483.5,360.3 487.9,354.8 492.3,353.1 496.6,355.7 501.1,364.0 505.5,361.1 509.9,362.0 514.4,386.6 518.6,373.5 523.0,367.9 527.4,367.4 531.9,362.8 536.3,359.1 540.5,359.1 544.9,360.8 549.4,366.7 553.8,360.8 558.2,371.3 562.4,377.6 566.9,388.3 571.1,368.8 575.5,364.5 579.9,367.9 584.2,367.9 588.6,381.5 593.0,381.0 597.4,379.8 601.7,374.2 606.1,376.8 610.4,369.6 614.8,379.2 619.1,372.0 623.5,364.9 627.7,369.6 632.1,373.9 636.6,373.4" fill="none" stroke="#1f3f85" stroke-width="1.3" stroke-linejoin="round"/>
<rect x="2.6" y="2.5" width="9.9" height="8.6" fill="#12abe8"/>
<text x="20.3" y="11" font-family="Liberation Sans, Arial, sans-serif" font-size="12" fill="#12abe8" stroke="#12abe8" stroke-width="0.2">50-Tage-Durchschnitt</text>
<rect x="162.5" y="2.5" width="9.9" height="8.9" fill="#0b2868"/>
<text x="180" y="11" font-family="Liberation Sans, Arial, sans-serif" font-size="12" fill="#0b2868" stroke="#0b2868" stroke-width="0.2">200-Tage-Durchschnitt</text>
<text x="733.5" y="21.6" font-family="Liberation Sans, Arial, sans-serif" font-size="12.2" fill="#111" stroke="#111" stroke-width="0.2">7.100</text>
<text x="733.5" y="50.1" font-family="Liberation Sans, Arial, sans-serif" font-size="12.2" fill="#111" stroke="#111" stroke-width="0.2">7.000</text>
<text x="733.5" y="78.6" font-family="Liberation Sans, Arial, sans-serif" font-size="12.2" fill="#111" stroke="#111" stroke-width="0.2">6.900</text>
<text x="733.5" y="107.1" font-family="Liberation Sans, Arial, sans-serif" font-size="12.2" fill="#111" stroke="#111" stroke-width="0.2">6.800</text>
<text x="733.5" y="135.6" font-family="Liberation Sans, Arial, sans-serif" font-size="12.2" fill="#111" stroke="#111" stroke-width="0.2">6.700</text>
<text x="733.5" y="164.1" font-family="Liberation Sans, Arial, sans-serif" font-size="12.2" fill="#111" stroke="#111" stroke-width="0.2">6.600</text>
<text x="733.5" y="192.6" font-family="Liberation Sans, Arial, sans-serif" font-size="12.2" fill="#111" stroke="#111" stroke-width="0.2">6.500</text>
<text x="733.5" y="221.1" font-family="Liberation Sans, Arial, sans-serif" font-size="12.2" fill="#111" stroke="#111" stroke-width="0.2">6.400</text>
<text x="733.5" y="249.6" font-family="Liberation Sans, Arial, sans-serif" font-size="12.2" fill="#111" stroke="#111" stroke-width="0.2">6.300</text>
<text x="733.5" y="278.1" font-family="Liberation Sans, Arial, sans-serif" font-size="12.2" fill="#111" stroke="#111" stroke-width="0.2">6.200</text>
<text x="733.5" y="306.6" font-family="Liberation Sans, Arial, sans-serif" font-size="12.2" fill="#111" stroke="#111" stroke-width="0.2">6.100</text>
<text x="733.5" y="331.9" font-family="Liberation Sans, Arial, sans-serif" font-size="11" fill="#111" stroke="#111" stroke-width="0.2">80</text>
<text x="733.5" y="361.2" font-family="Liberation Sans, Arial, sans-serif" font-size="11" fill="#111" stroke="#111" stroke-width="0.2">60</text>
<text x="733.5" y="390.3" font-family="Liberation Sans, Arial, sans-serif" font-size="11" fill="#111" stroke="#111" stroke-width="0.2">40</text>
<text x="733.5" y="419.3" font-family="Liberation Sans, Arial, sans-serif" font-size="11" fill="#111" stroke="#111" stroke-width="0.2">20</text>
<text x="3" y="320.3" font-family="Liberation Sans, Arial, sans-serif" font-size="13" fill="#111" stroke="#111" stroke-width="0.2">RSI (14 Tage)</text>
<text x="2.6" y="428" font-family="Liberation Sans, Arial, sans-serif" font-size="11" fill="#111" stroke="#111" stroke-width="0.2">Aug 25</text>
<text x="94" y="428" font-family="Liberation Sans, Arial, sans-serif" font-size="11" fill="#111" stroke="#111" stroke-width="0.2">Sep 25</text>
<text x="185.6" y="428" font-family="Liberation Sans, Arial, sans-serif" font-size="11" fill="#111" stroke="#111" stroke-width="0.2">Okt 25</text>
<text x="286" y="428" font-family="Liberation Sans, Arial, sans-serif" font-size="11" fill="#111" stroke="#111" stroke-width="0.2">Nov 25</text>
<text x="368.6" y="428" font-family="Liberation Sans, Arial, sans-serif" font-size="11" fill="#111" stroke="#111" stroke-width="0.2">Dez 25</text>
<text x="465.6" y="428" font-family="Liberation Sans, Arial, sans-serif" font-size="11" fill="#111" stroke="#111" stroke-width="0.2">Jan 26</text>
<text x="553.6" y="428" font-family="Liberation Sans, Arial, sans-serif" font-size="11" fill="#111" stroke="#111" stroke-width="0.2">Feb 26</text>
<text x="636.4" y="428" font-family="Liberation Sans, Arial, sans-serif" font-size="11" fill="#111" stroke="#111" stroke-width="0.2">Mrz 26</text>
</svg></body></html>
